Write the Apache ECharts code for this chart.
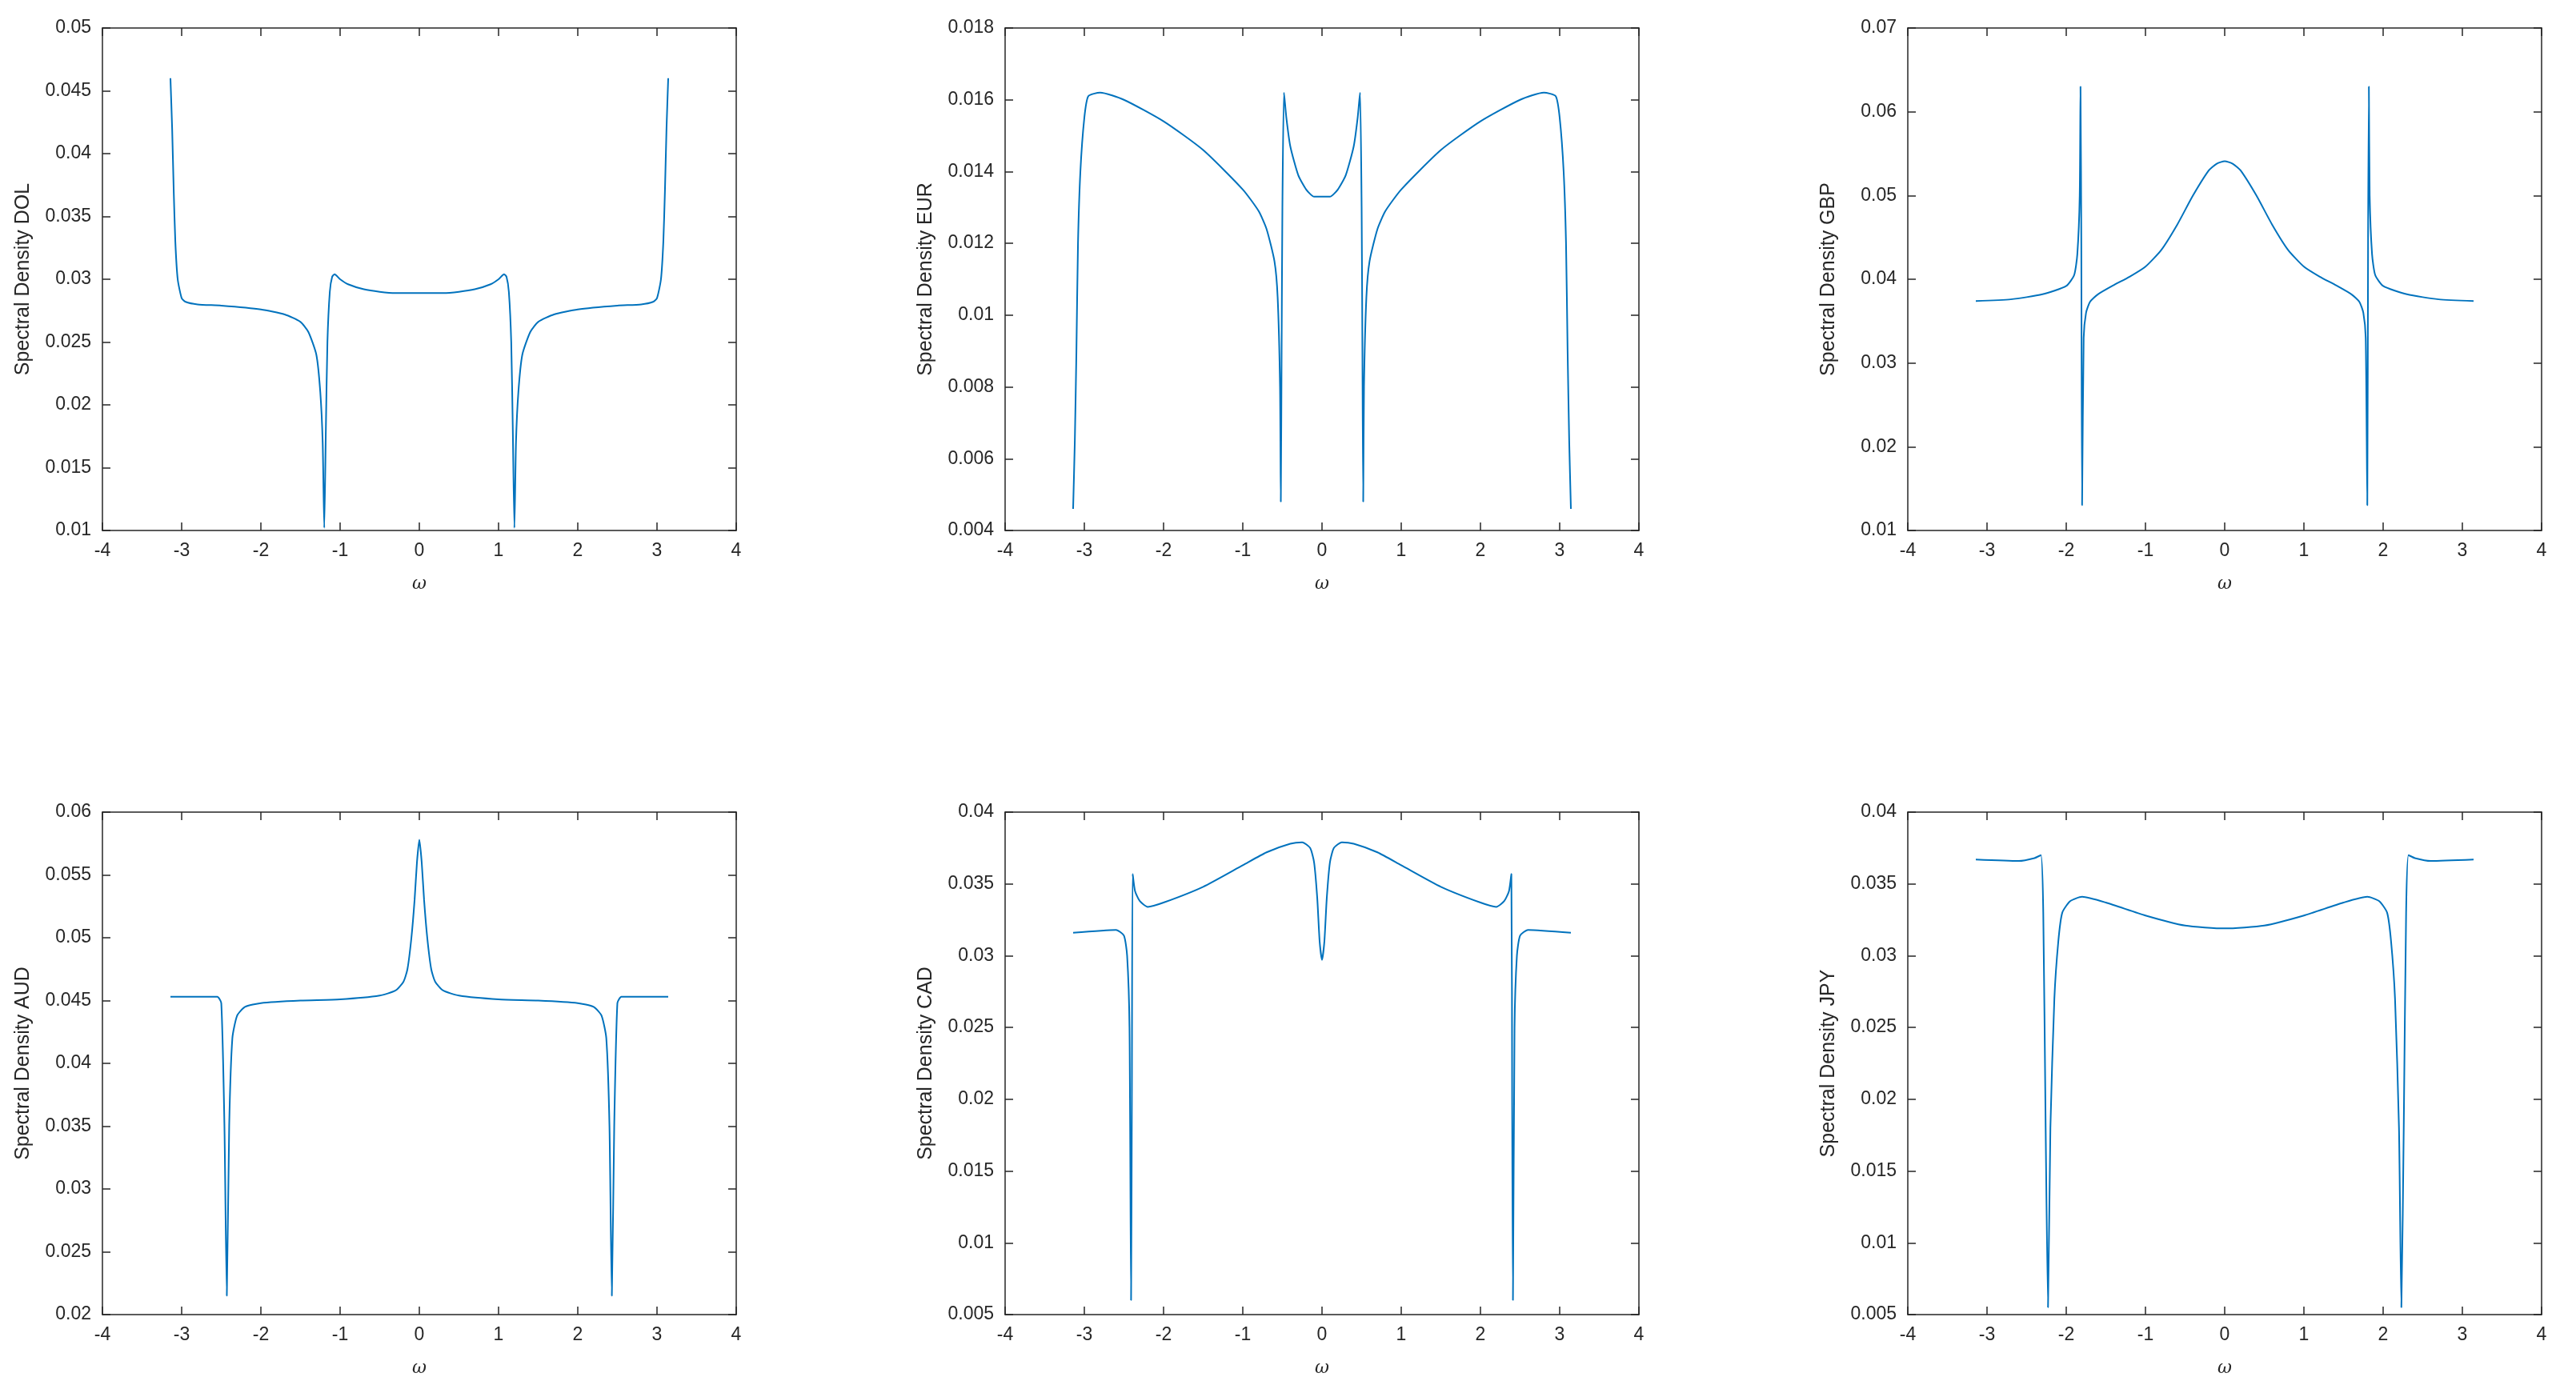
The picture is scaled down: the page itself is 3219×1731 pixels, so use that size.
<!DOCTYPE html>
<html><head><meta charset="utf-8">
<script src="https://cdn.jsdelivr.net/npm/echarts@6/dist/echarts.min.js"></script>
<style>html,body{margin:0;background:#fff}#c{width:3219px;height:1731px}</style>
</head><body><div id="c"></div>
<script>
// half-curves for omega >= 0 (spectral densities are symmetric)
const dolX=[0,0.3,0.5,0.7,0.9,1.0,1.07,1.1,1.13,1.16,1.18,1.2,1.22,1.25,1.3,1.4,1.5,1.7,2.0,2.5,2.8,2.95,3.0,3.05,3.08,3.1,3.12,3.1416];
const dolY=[0.0289,0.0289,0.0290,0.0292,0.0296,0.0300,0.0304,0.0302,0.0290,0.025,0.018,0.0102,0.017,0.021,0.024,0.0258,0.0266,0.0272,0.0276,0.0279,0.0280,0.0282,0.0285,0.030,0.033,0.037,0.042,0.046];
const eurX=[0,0.1,0.2,0.3,0.4,0.45,0.48,0.5,0.51,0.52,0.53,0.56,0.6,0.7,0.8,1.0,1.5,2.0,2.5,2.8,2.95,3.0,3.05,3.08,3.1,3.12,3.1416];
const eurY=[0.0133,0.0133,0.0135,0.0139,0.0147,0.0155,0.0162,0.013,0.009,0.0048,0.008,0.0105,0.0115,0.0124,0.0129,0.0135,0.0146,0.0154,0.0160,0.0162,0.0161,0.0155,0.014,0.012,0.009,0.0065,0.0046];
const gbpX=[0,0.1,0.2,0.4,0.6,0.8,1.0,1.2,1.4,1.6,1.7,1.75,1.78,1.8,1.81,1.82,1.83,1.86,1.9,2.0,2.3,2.7,3.1416];
const gbpY=[0.0541,0.0538,0.0530,0.0500,0.0465,0.0435,0.0415,0.0403,0.0393,0.0382,0.0373,0.036,0.033,0.013,0.045,0.063,0.050,0.043,0.0405,0.0392,0.0382,0.0376,0.0374];
const audX=[0,0.03,0.06,0.1,0.15,0.2,0.3,0.5,1.0,1.5,2.0,2.2,2.3,2.36,2.4,2.43,2.46,2.5,2.55,2.7,3.1416];
const audY=[0.0578,0.056,0.053,0.050,0.0475,0.0465,0.0458,0.0454,0.0451,0.0450,0.0448,0.0445,0.0438,0.042,0.035,0.0215,0.035,0.0448,0.0453,0.0453,0.0453];
const cadX=[0,0.03,0.06,0.1,0.15,0.25,0.4,0.7,1.0,1.5,2.0,2.2,2.3,2.36,2.39,2.40,2.41,2.43,2.46,2.5,2.6,3.1416];
const cadY=[0.0297,0.031,0.034,0.0365,0.0375,0.0379,0.0378,0.0372,0.0363,0.0348,0.0337,0.0334,0.0338,0.0345,0.0357,0.020,0.006,0.025,0.030,0.0314,0.0318,0.0316];
const jpyX=[0,0.5,1.0,1.5,1.8,1.95,2.05,2.1,2.15,2.2,2.23,2.26,2.29,2.32,2.4,2.6,3.1416];
const jpyY=[0.0319,0.0321,0.0328,0.0337,0.0341,0.0338,0.033,0.031,0.027,0.018,0.0055,0.018,0.033,0.0370,0.0368,0.0366,0.0367];
const xTicks=[-4,-3,-2,-1,0,1,2,3,4];
const panels=[
 {name:'DOL',x:dolX,y:dolY,min:0.01,max:0.05,step:0.005},
 {name:'EUR',x:eurX,y:eurY,min:0.004,max:0.018,step:0.002},
 {name:'GBP',x:gbpX,y:gbpY,min:0.01,max:0.07,step:0.01},
 {name:'AUD',x:audX,y:audY,min:0.02,max:0.06,step:0.005},
 {name:'CAD',x:cadX,y:cadY,min:0.005,max:0.04,step:0.005},
 {name:'JPY',x:jpyX,y:jpyY,min:0.005,max:0.04,step:0.005}
];
const lefts=[128,1256,2384], tops=[35,1015], W=792, H=628;
const grid=[],xAxis=[],yAxis=[],series=[];
const txt='#262626', ln='#262626';
panels.forEach((p,i)=>{
  grid.push({left:lefts[i%3],top:tops[Math.floor(i/3)],width:W,height:H});
  const base={gridIndex:i,type:'value',min:-4,max:4,interval:1,
    axisLine:{show:true,onZero:false,lineStyle:{color:ln,width:1.5}},
    axisTick:{show:true,inside:true,length:10,lineStyle:{color:ln,width:1.5}},splitLine:{show:false}};
  xAxis.push(Object.assign({},base,{position:'bottom',name:'ω',nameLocation:'middle',nameGap:56,
    nameTextStyle:{fontFamily:'DejaVu Serif',fontStyle:'italic',fontSize:22,color:txt},
    axisLabel:{fontFamily:'Liberation Sans',fontSize:23,color:txt,margin:14}}));
  xAxis.push(Object.assign({},base,{position:'top',axisLabel:{show:false}}));
  const yb={gridIndex:i,type:'value',min:p.min,max:p.max,interval:p.step,
    axisLine:{show:true,onZero:false,lineStyle:{color:ln,width:1.5}},
    axisTick:{show:true,inside:true,length:10,lineStyle:{color:ln,width:1.5}},splitLine:{show:false}};
  yAxis.push(Object.assign({},yb,{position:'left',name:'Spectral Density '+p.name,nameLocation:'middle',nameGap:86,
    nameTextStyle:{fontFamily:'Liberation Sans',fontSize:25,color:txt},
    axisLabel:{fontFamily:'Liberation Sans',fontSize:23,color:txt,margin:14,formatter:v=>String(+v.toFixed(4))}}));
  yAxis.push(Object.assign({},yb,{position:'right',axisLabel:{show:false}}));
  const pts=[];
  for(let k=p.x.length-1;k>0;k--) pts.push([-p.x[k],p.y[k]]);
  for(let k=0;k<p.x.length;k++) pts.push([p.x[k],p.y[k]]);
  series.push({type:'line',xAxisIndex:2*i,yAxisIndex:2*i,data:pts,showSymbol:false,smooth:0.2,
    lineStyle:{color:'#0072BD',width:2},animation:false});
});
const ch=echarts.init(document.getElementById('c'));
ch.setOption({animation:false,grid,xAxis,yAxis,series});
</script></body></html>
